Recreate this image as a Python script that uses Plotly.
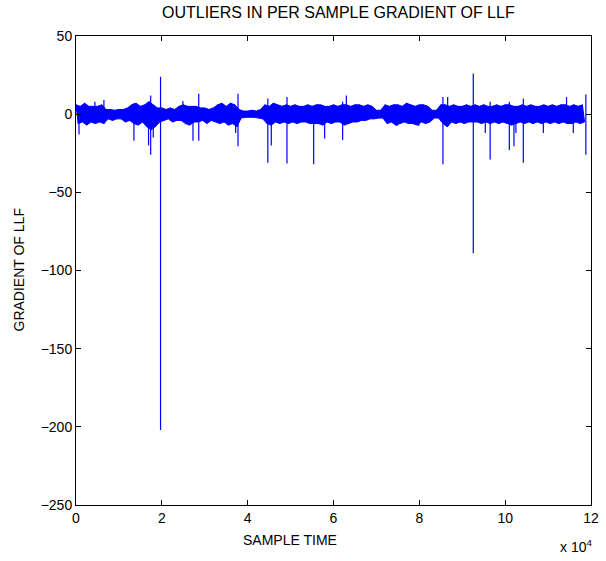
import plotly.graph_objects as go

# ---- data ----
STEP = 1000
# upper envelope values at t = k*1000
UPPER = [6, 5, 7, 5, 5, 5, 6,
         3, 3, 2.5, 3, 3, 4,
         6, 7, 5, 6,
         8, 6,
         4,
         4, 3, 4, 3, 5,
         6, 5, 5,
         5,
         4, 4, 3, 4,
         6, 7, 5, 7, 6,
         3, 2, 2, 2.5, 2, 3,
         6, 5, 7, 6,
         5, 6,
         5, 6, 5, 5, 6,
         5,
         6, 6,
         5, 5, 6, 5,
         6,
         6, 5, 6, 6, 5, 6, 5,
         2.5, 2.5,
         6, 5, 6, 6, 5, 7, 6, 5, 6, 6, 5,
         2.5, 2.5,
         6,
         6,
         5, 6, 5, 5, 6, 5,
         6, 5, 6, 5,
         5, 6, 5, 6,
         6, 5, 5, 6,
         5, 6, 5, 5,
         6, 5, 6, 5, 6,
         6,
         5,
         6, 5, 6]
# lower envelope values at t = k*1000 + 500
LOWER = [-6, -5, -7, -5, -6, -5, -6,
         -3, -4, -3, -3, -5, -4,
         -6, -7, -5, -8,
         -10, -8,
         -5,
         -4, -3, -5, -4, -4,
         -6, -7, -5,
         -5,
         -4, -6, -4, -5,
         -6, -5, -7, -6, -8,
         -2.5, -2, -2, -2, -2.5, -3,
         -6, -7, -5, -6,
         -5, -6,
         -5, -6, -5, -5, -6,
         -6,
         -6, -7,
         -5, -6, -5, -5,
         -7,
         -6, -5, -5, -4, -4, -3, -3,
         -2.5, -2.5,
         -6, -5, -7, -6, -5, -6, -6, -7, -5, -6, -5,
         -2.5, -2.5,
         -6,
         -8,
         -5, -6, -5, -6, -5, -5,
         -5, -6, -5, -6,
         -5, -6, -5, -6,
         -7, -6, -5, -6,
         -5, -6, -5, -6,
         -5, -6, -5, -6, -5,
         -6,
         -6,
         -5, -6, -5]
# outlier spikes: sample time, top value, bottom value
SPIKE_T = [700, 4400, 6500, 13500, 16900, 17400, 18000, 19700, 24900, 27260,
           28600, 37200, 37750, 44700, 45500, 49160, 55380, 57940, 62130, 62990,
           74800, 79900, 85500, 86600, 92570, 95370, 96500, 100970, 102050, 102500,
           104230, 108900, 114300, 115870, 118800]
SPIKE_HI = [4, 8, 9, 7, 5, 12, 4, 24, 8.5, 4,
            13, 5, 13, 10, 5, 11, 5, 5, 8, 12,
            5, 5, 11, 11, 26, 5, 8, 8, 5, 5,
            10, 5, 11, 5, 12.5]
SPIKE_LO = [-13, -3, -6, -17, -20, -26, -15, -202, -3, -17,
            -17, -12, -20.5, -31, -20, -31.5, -32, -15.6, -16.6, -4,
            -7.5, -7.5, -32, -8, -89, -12, -29, -23, -20.5, -12,
            -31, -12, -5, -12, -26]

X_TICKS = [0, 20000, 40000, 60000, 80000, 100000, 120000]
X_TICK_LABELS = ["0", "2", "4", "6", "8", "10", "12"]
Y_TICKS = [50, 0, -50, -100, -150, -200, -250]
Y_TICK_LABELS = ["50", "0", "\u221250", "\u2212100", "\u2212150", "\u2212200", "\u2212250"]

BLUE = "#0000ff"
FONT = "Liberation Sans, Arial, Helvetica, sans-serif"

# ---- traces ----
up_x = [k * STEP for k in range(len(UPPER))]
lo_x = [k * STEP + STEP // 2 for k in range(len(LOWER))]

# zig-zag signal between envelopes
pts = list(zip(up_x, UPPER)) + list(zip(lo_x, LOWER))
pts.sort(key=lambda p: p[0])

# spikes as vertical strokes
sx, sy = [], []
for t, hi, lo in zip(SPIKE_T, SPIKE_HI, SPIKE_LO):
    sx += [t, t, None]
    sy += [hi, lo, None]

fig = go.Figure()
fig.add_trace(go.Scatter(x=up_x, y=UPPER, mode="lines",
                         line=dict(color=BLUE, width=1),
                         hoverinfo="skip", showlegend=False))
fig.add_trace(go.Scatter(x=lo_x, y=LOWER, mode="lines", fill="tonexty",
                         fillcolor=BLUE, line=dict(color=BLUE, width=1),
                         hoverinfo="skip", showlegend=False))
fig.add_trace(go.Scatter(x=[p[0] for p in pts], y=[p[1] for p in pts], mode="lines",
                         line=dict(color=BLUE, width=1),
                         hoverinfo="skip", showlegend=False))
fig.add_trace(go.Scatter(x=sx, y=sy, mode="lines",
                         line=dict(color=BLUE, width=1.2),
                         hoverinfo="skip", showlegend=False))

axis_common = dict(showgrid=False, zeroline=False, showline=True, linecolor="black",
                   linewidth=1, mirror="ticks", ticks="inside", ticklen=5,
                   tickcolor="black", tickfont=dict(family=FONT, size=14, color="black"),
                   automargin=False)

fig.update_xaxes(range=[0, 120000], tickvals=X_TICKS, ticktext=X_TICK_LABELS, **axis_common)
fig.update_yaxes(range=[-250, 50], tickvals=Y_TICKS, ticktext=Y_TICK_LABELS, **axis_common)

fig.update_layout(
    width=606, height=561,
    margin=dict(l=76, r=15, t=36, b=56),
    paper_bgcolor="white", plot_bgcolor="white",
    font=dict(family=FONT, size=14, color="black"),
    annotations=[
        dict(text="OUTLIERS IN PER SAMPLE GRADIENT OF LLF", xref="paper", yref="paper",
             x=(338 - 76) / 515, y=1 + 23 / 469, xanchor="center", yanchor="middle",
             showarrow=False, font=dict(family=FONT, size=16)),
        dict(text="SAMPLE TIME", xref="paper", yref="paper",
             x=(290 - 76) / 515, y=-35 / 469, xanchor="center", yanchor="middle",
             showarrow=False, font=dict(family=FONT, size=14)),
        dict(text="GRADIENT OF LLF", xref="paper", yref="paper",
             x=-58 / 515, y=0.5, xanchor="center", yanchor="middle", showarrow=False,
             textangle=-90, font=dict(family=FONT, size=14)),
        dict(text="x 10<sup>4</sup>", xref="paper", yref="paper",
             x=(576 - 76) / 515, y=-(546 - 505) / 469, xanchor="center", yanchor="middle",
             showarrow=False, font=dict(family=FONT, size=14)),
    ],
)

fig.write_html("out.html", config={"displayModeBar": False},
               post_script="document.body.style.margin='0';document.body.style.overflow='hidden';")
